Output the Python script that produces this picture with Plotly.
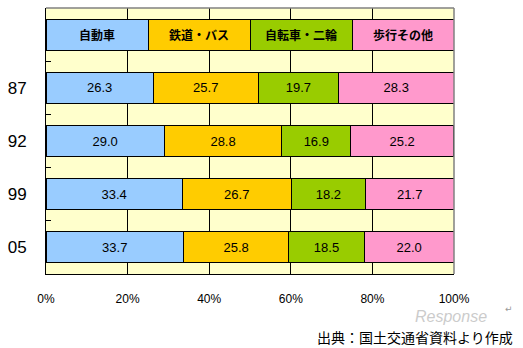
import plotly.graph_objects as go

years = ["87", "92", "99", "05"]
modes = ["自動車", "鉄道・バス", "自転車・二輪", "歩行その他"]
car = [26.3, 29.0, 33.4, 33.7]
rail_bus = [25.7, 28.8, 26.7, 25.8]
bike = [19.7, 16.9, 18.2, 18.5]
walk = [28.3, 25.2, 21.7, 22.0]
key_share = [25, 25, 25, 25]  # equal-width key row at top
x_ticks = [0, 20, 40, 60, 80, 100]
source_text = "出典：国土交通省資料より作成"

colors = ["#99CCFF", "#FFCC00", "#99CC00", "#FF99CC"]
series = [car, rail_bus, bike, walk]
KEY = "key"
cats = [KEY] + years

fig = go.Figure()
num_font = dict(family="Liberation Sans", size=13, color="black")
key_font = dict(family="Noto Sans CJK JP", size=12, color="black", weight="bold")

for i, (name, vals, col) in enumerate(zip(modes, series, colors)):
    fig.add_trace(go.Bar(
        y=[KEY], x=[key_share[i]], orientation="h", name=name,
        marker=dict(color=col, line=dict(color="black", width=1)),
        text=[name], textposition="inside", insidetextanchor="middle",
        textangle=0, textfont=key_font, showlegend=False, hoverinfo="skip",
    ))
    fig.add_trace(go.Bar(
        y=years, x=vals, orientation="h", name=name,
        marker=dict(color=col, line=dict(color="black", width=1)),
        text=[f"{v:.1f}" for v in vals], textposition="inside",
        insidetextanchor="middle", textangle=0, textfont=num_font,
        showlegend=False,
    ))

fig.update_layout(
    width=523, height=348,
    margin=dict(l=41, r=69, t=8, b=74),
    barmode="stack", bargap=0.417,
    plot_bgcolor="#FFFFCC", paper_bgcolor="white",
    showlegend=False,
)
fig.update_xaxes(
    range=[0, 100], tickvals=x_ticks, ticktext=[f"{t}%" for t in x_ticks],
    showgrid=True, gridcolor="black", gridwidth=1,
    showline=True, linecolor="black", linewidth=1,
    ticks="", ticklabelstandoff=14, zeroline=False,
    tickfont=dict(family="Liberation Sans", size=12, color="black"),
)
fig.update_yaxes(
    type="category", categoryorder="array", categoryarray=cats,
    autorange="reversed",
    tickvals=cats, ticktext=[""] + years, tickson="boundaries",
    ticks="inside", ticklen=5, tickcolor="black",
    showgrid=False, showline=True, linecolor="black", linewidth=1,
    ticklabelstandoff=15,
    tickfont=dict(family="Liberation Sans", size=17, color="black"),
)
# top and right grey frame
fig.add_shape(type="line", xref="x domain", yref="y domain", x0=0, x1=1, y0=1, y1=1,
              line=dict(color="#808080", width=1.5))
fig.add_shape(type="line", xref="x domain", yref="y domain", x0=1, x1=1, y0=0, y1=1,
              line=dict(color="#808080", width=1.5))

fig.add_annotation(text=source_text, xref="paper", yref="paper", x=1.15, y=-0.236,
                   xanchor="right", yanchor="middle", showarrow=False,
                   font=dict(family="Noto Sans CJK JP", size=14, color="black"))
fig.add_annotation(text="Response", xref="paper", yref="paper", x=1.085, y=-0.158,
                   xanchor="right", yanchor="middle", showarrow=False, opacity=0.4,
                   font=dict(family="Liberation Sans", size=16, color="#808080", style="italic"))
fig.add_annotation(text="↵", xref="paper", yref="paper", x=1.135, y=-0.13,
                   xanchor="center", yanchor="middle", showarrow=False,
                   font=dict(family="DejaVu Sans", size=9, color="#999999"))

fig.write_html("out.html")
